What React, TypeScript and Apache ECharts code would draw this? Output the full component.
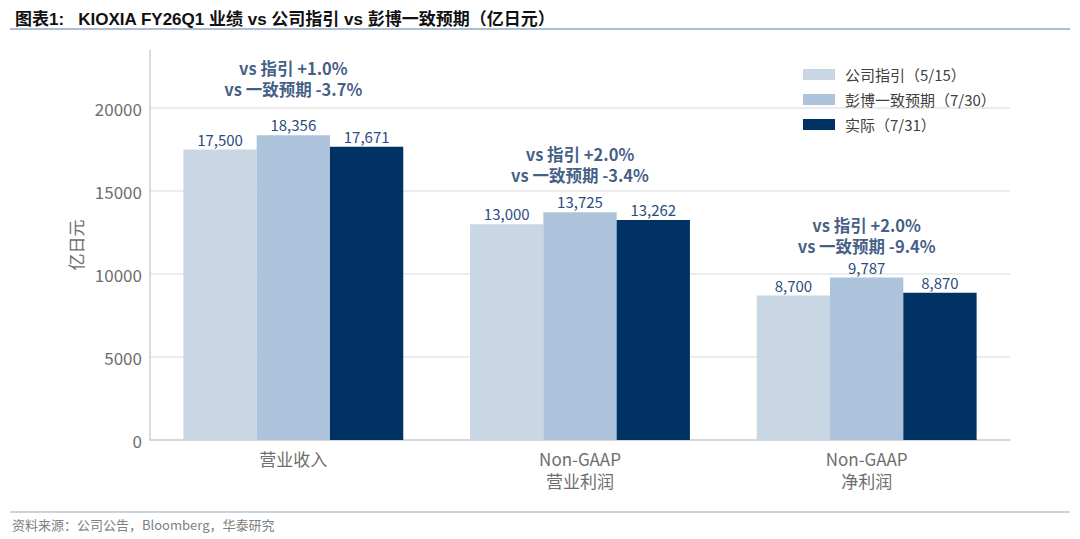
import React, { useEffect, useRef } from "react";
import * as echarts from "echarts";

const categories = ["营业收入", "Non-GAAP\n营业利润", "Non-GAAP\n净利润"];
const seriesNames = ["公司指引（5/15）", "彭博一致预期（7/30）", "实际（7/31）"];
const guidance = [17500, 13000, 8700];
const consensus = [18356, 13725, 9787];
const actual = [17671, 13262, 8870];
const barColors = ["#c9d6e3", "#adc3dc", "#003263"];
const annotationTexts = [
  "vs 指引 +1.0%\nvs 一致预期 -3.7%",
  "vs 指引 +2.0%\nvs 一致预期 -3.4%",
  "vs 指引 +2.0%\nvs 一致预期 -9.4%",
];
const annotationLevels = [21800, 16600, 12300];
const yTicks = [0, 5000, 10000, 15000, 20000];
const yMax = 23500;

const FONT = "'Noto Sans CJK SC', 'Noto Sans', sans-serif";

export default function App() {
  const ref = useRef<HTMLDivElement>(null);
  useEffect(() => {
    if (!ref.current) return;
    const chart = echarts.init(ref.current, null, { renderer: "svg" });
    const fmt = (v: number) => v.toLocaleString("en-US");
    const barSeries = [guidance, consensus, actual].map((vals, i) => ({
      name: seriesNames[i],
      type: "bar",
      data: vals,
      barGap: "0%",
      barCategoryGap: "23.3%",
      itemStyle: { color: barColors[i] },
      label: {
        show: true,
        position: "top",
        distance: 3,
        color: "#2b4c7e",
        fontSize: 15,
        fontFamily: FONT,
        formatter: (p: any) => fmt(p.value),
      },
      silent: true,
    }));
    chart.setOption({
      animation: false,
      textStyle: { fontFamily: FONT },
      title: {
        text: "图表1:   KIOXIA FY26Q1 业绩 vs 公司指引 vs 彭博一致预期（亿日元）",
        left: 10,
        top: 6,
        textStyle: {
          fontSize: 17,
          fontWeight: "bold",
          color: "#111",
          fontFamily: "'Liberation Sans', 'Noto Sans CJK SC', sans-serif",
        },
      },
      graphic: [
        { type: "line", shape: { x1: 10, y1: 29, x2: 1070, y2: 29 }, style: { stroke: "#8fa9c6", lineWidth: 1.5 } },
        { type: "line", shape: { x1: 10, y1: 512, x2: 1070, y2: 512 }, style: { stroke: "#8fa9c6", lineWidth: 1.2 } },
        {
          type: "text",
          left: 12,
          top: 518,
          style: {
            text: "资料来源：公司公告，Bloomberg，华泰研究",
            fill: "#808080",
            fontSize: 13,
            fontFamily: FONT,
          },
        },
      ],
      legend: {
        data: seriesNames,
        orient: "vertical",
        left: 798,
        top: 62,
        itemWidth: 32,
        itemHeight: 11,
        itemGap: 10,
        icon: "rect",
        textStyle: { fontSize: 15, color: "#404040", fontFamily: FONT, padding: [0, 0, 0, 5] },
        selectedMode: false,
      },
      grid: { left: 150, right: 70, top: 50, bottom: 99, containLabel: false },
      xAxis: {
        type: "category",
        data: categories,
        axisLine: { lineStyle: { color: "#d0d0d0", width: 1.5 } },
        axisTick: { show: false },
        axisLabel: { color: "#6e6e6e", fontSize: 17, lineHeight: 22, margin: 7, fontFamily: FONT },
      },
      yAxis: {
        type: "value",
        min: 0,
        max: yMax,
        interval: 5000,
        name: "亿日元",
        nameLocation: "middle",
        nameGap: 66,
        nameRotate: 90,
        nameTextStyle: { color: "#6e6e6e", fontSize: 17, fontFamily: FONT },
        axisLine: { show: true, lineStyle: { color: "#d0d0d0", width: 1.5 } },
        axisTick: { show: false },
        axisLabel: {
          color: "#6e6e6e",
          fontSize: 17,
          margin: 8,
          showMaxLabel: false,
          fontFamily: FONT,
          formatter: (v: number) => (yTicks.includes(v) ? String(v) : ""),
        },
        splitLine: { show: true, showMaxLine: false, lineStyle: { color: "#e6e6e6", width: 1.5 } },
      },
      series: [
        ...barSeries,
        {
          name: "annotations",
          type: "scatter",
          symbolSize: 0,
          silent: true,
          data: annotationLevels.map((v, i) => [i, v]),
          label: {
            show: true,
            position: "inside",
            color: "#0f3466",
            fontSize: 16.5,
            fontWeight: "bold",
            lineHeight: 21,
            fontFamily: FONT,
            formatter: (p: any) => annotationTexts[p.dataIndex],
          },
          z: 5,
        },
      ],
    });
    return () => chart.dispose();
  }, []);
  return <div ref={ref} style={{ width: 1080, height: 539, position: "absolute", left: 0, top: 0 }} />;
}
